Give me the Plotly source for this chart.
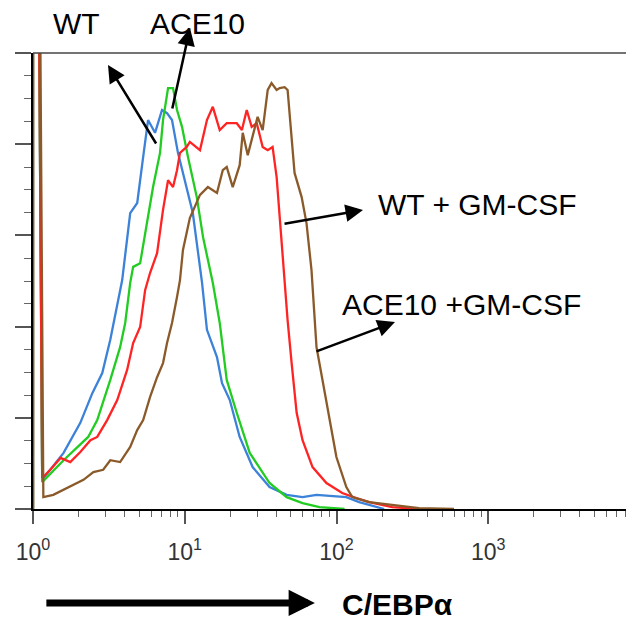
import plotly.graph_objects as go

# Flow cytometry histograms of C/EBPalpha.
# x = fluorescence intensity (log axis), y = events as % of the tallest peak
# (the first channels hold an off-scale pile-up, drawn as the spike at 10^0)
wt_x = [1.0, 1.0, 1.05, 1.15, 1.59, 2.05, 2.46, 2.86, 3.23, 3.64, 3.87, 4.37, 4.86, 5.32, 5.73,
        6.37, 7.08, 7.64, 8.24, 9.02, 10.3, 11.3, 13.0, 14.0, 16.3, 17.6, 19.8, 23.0,
        28.0, 36.2, 46.9, 59.7, 73.8, 89.8, 116, 141, 183, 206]
wt_y = [0, 200, 200, 6.4, 12.3, 18.9, 25.4, 29.8, 37.1, 45.8, 50.2, 64.9, 67.1, 77.2, 85.3,
        82.5, 87.5, 86.8, 85.3, 78.1, 70.6, 64.9, 49.6, 39.3, 33.3, 27.6, 23.9, 15.8,
        9.2, 4.8, 3.1, 2.6, 3.1, 2.9, 2.6, 1.5, 0.4, 0]

ace_x = [1.0, 1.0, 1.05, 1.15, 1.59, 2.31, 2.65, 3.23, 3.75, 4.05, 4.37, 4.57, 5.08, 5.65, 6.18,
         6.87, 7.19, 7.76, 8.37, 8.89, 9.59, 10.5, 12.0, 13.2, 15.3, 17.0, 18.9, 22.0,
         26.8, 36.2, 46.9, 59.7, 77.2, 113]
ace_y = [0, 200, 200, 5.9, 10.7, 15.8, 19.5, 28.3, 35.5, 40.8, 49.6, 53.1, 53.9, 63.4, 70.6,
         78.1, 85.3, 92.3, 92.3, 87.5, 83.8, 77.2, 68.4, 59.6, 49.6, 40.8, 28.3, 21.1,
         12.3, 5.7, 2.6, 1.3, 0.4, 0]

wt_gm_x = [1.0, 1.0, 1.05, 1.15, 1.30, 1.52, 1.76, 2.05, 2.39, 2.65, 3.08, 3.59, 4.17, 4.57, 5.08,
           5.48, 5.91, 6.57, 7.19, 7.76, 8.37, 8.89, 9.30, 10.3, 10.8, 12.6, 14.0, 15.3,
           17.0, 18.9, 22.0, 23.8, 25.6, 27.6, 29.8, 32.6, 35.2, 37.9, 40.3, 42.2, 44.2,
           45.5, 47.6, 50.6, 54.6, 59.7, 69.5, 85.8, 109, 135, 164, 233, 350]
wt_gm_y = [0, 200, 200, 6.8, 8.6, 11.2, 10.3, 12.5, 15.1, 15.8, 19.5, 23.9, 30.5, 36.4, 39.9,
           48.0, 51.8, 56.1, 65.6, 72.1, 70.6, 74.3, 78.1, 79.4, 80.5, 78.7, 85.3, 88.2,
           83.1, 84.6, 84.6, 83.1, 87.5, 83.8, 84.6, 79.4, 78.7, 79.4, 72.8, 64.0, 56.1,
           49.6, 41.4, 32.0, 21.1, 15.1, 9.2, 5.7, 3.5, 2.4, 1.5, 0.4, 0]

ace_gm_x = [1.0, 1.0, 1.07, 1.17, 1.36, 1.59, 1.85, 2.15, 2.50, 2.90, 3.23, 3.75, 4.37, 4.86, 5.32,
            5.91, 6.57, 7.19, 7.64, 8.24, 8.89, 9.30, 9.73, 10.8, 12.6, 14.2, 16.3, 17.8,
            18.9, 20.7, 23.0, 24.1, 26.0, 28.0, 30.2, 32.6, 35.2, 37.3, 40.3, 42.2, 45.5,
            47.6, 50.6, 52.9, 58.9, 63.4, 68.4, 73.8, 80.8, 89.8, 99.8, 116, 127, 164,
            233, 350, 594]
ace_gm_y = [0, 200, 200, 2.6, 3.1, 4.2, 5.3, 6.4, 8.1, 8.6, 10.7, 10.3, 13.6, 17.3, 19.5,
            24.6, 28.9, 32.0, 36.4, 40.8, 46.5, 50.2, 56.8, 63.8, 68.9, 70.6, 69.3, 74.3,
            75.0, 70.6, 75.4, 82.5, 77.6, 81.6, 86.0, 83.1, 91.9, 93.4, 91.9, 92.3, 92.5,
            91.9, 81.6, 73.7, 68.4, 62.7, 52.4, 35.5, 28.3, 19.5, 11.4, 4.8, 2.6, 1.5,
            0.9, 0.2, 0]

x_tickvals = [1, 10, 100, 1000]
x_ticktext = ["10<sup>0</sup>", "10<sup>1</sup>", "10<sup>2</sup>", "10<sup>3</sup>"]

FONT = "Liberation Sans, Arial, sans-serif"

fig = go.Figure()
series = [
    ("WT", wt_x, wt_y, "#3b82d8"),
    ("ACE10", ace_x, ace_y, "#22cc22"),
    ("WT + GM-CSF", wt_gm_x, wt_gm_y, "#ff2424"),
    ("ACE10 +GM-CSF", ace_gm_x, ace_gm_y, "#8b5a2b"),
]
for name, xs, ys, col in series:
    fig.add_trace(go.Scatter(x=xs, y=ys, mode="lines", name=name,
                             line=dict(color=col, width=2.3)))

fig.update_xaxes(
    type="log", range=[0, 3.96],
    tickmode="array", tickvals=x_tickvals, ticktext=x_ticktext,
    ticks="outside", ticklen=13, tickwidth=1.5, tickcolor="#555",
    minor=dict(ticks="outside", ticklen=6, tickwidth=1.2, tickcolor="#666", dtick="D1"),
    showline=True, linecolor="black", linewidth=2,
    showgrid=False, zeroline=False,
    ticklabelstandoff=8,
    tickfont=dict(family=FONT, size=23, color="#333"),
)
fig.update_yaxes(
    range=[0, 100], dtick=20, showticklabels=False,
    ticks="outside", ticklen=16, tickwidth=1.5, tickcolor="#555",
    minor=dict(ticks="outside", ticklen=7, tickwidth=1.2, tickcolor="#666", dtick=5),
    showline=True, linecolor="black", linewidth=2,
    showgrid=False, zeroline=False,
)

# top frame line (no right edge is visible)
fig.add_shape(type="line", xref="paper", yref="paper", x0=0, x1=1, y0=1, y1=1,
              line=dict(color="#444", width=1.5))

ann_font = dict(family=FONT, size=30, color="black")
labels = [
    ("WT", 0.0732, 1.065),
    ("ACE10", 0.2745, 1.065),
    ("WT + GM-CSF", 0.7388, 0.6667),
    ("ACE10 +GM-CSF", 0.7138, 0.4474),
]
for txt, xp, yp in labels:
    fig.add_annotation(text=txt, x=xp, y=yp, xref="paper", yref="paper",
                       showarrow=False, font=ann_font, xanchor="center", yanchor="middle")

# pointer arrows: head position (paper) + tail offset (px)
arrows = [
    (0.1248, 0.9737, 49, 80),
    (0.2612, 1.0548, -18, 82),
    (0.5491, 0.6557, -80, 14),
    (0.6023, 0.4101, -80, 30),
]
for xp, yp, ax, ay in arrows:
    fig.add_annotation(text="", x=xp, y=yp, xref="paper", yref="paper",
                       ax=ax, ay=ay, showarrow=True, arrowhead=2, arrowsize=1.4,
                       arrowwidth=2.5, arrowcolor="black", standoff=0)

# axis label with long arrow
fig.add_annotation(text="", x=0.469, y=-0.206, xref="paper", yref="paper",
                   ax=-270, ay=0, showarrow=True, arrowhead=2, arrowsize=0.75,
                   arrowwidth=7, arrowcolor="black", standoff=0)
fig.add_annotation(text="<b>C/EBPα</b>", x=0.6073, y=-0.2105, xref="paper", yref="paper",
                   showarrow=False, font=dict(family=FONT, size=30, color="black"),
                   xanchor="center", yanchor="middle")

# the page body has an 8px margin, so everything is shifted 8px up/left here
fig.update_layout(
    width=634, height=623,
    margin=dict(l=25, r=8, t=45, b=122),
    paper_bgcolor="white", plot_bgcolor="white",
    showlegend=False,
)

fig.write_html("out.html")
